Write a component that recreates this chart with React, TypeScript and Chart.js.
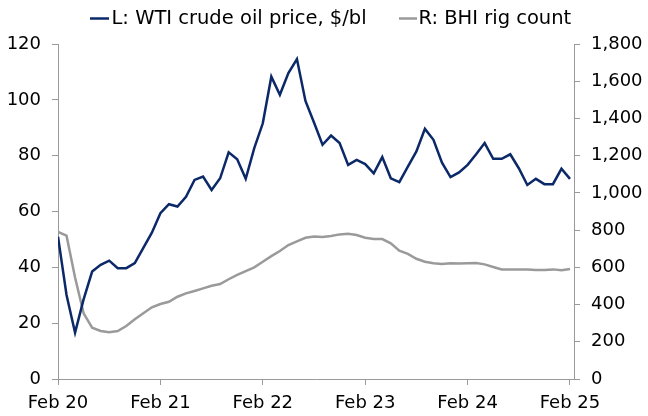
import React, { useEffect, useRef } from "react";
import { Chart, registerables } from "chart.js";

Chart.register(...registerables);

// Monthly observations, Feb 2020 .. Feb 2025 (61 months)
const monthIndex: number[] = [
  0, 1, 2, 3, 4, 5, 6, 7, 8, 9, 10, 11, 12, 13, 14, 15, 16, 17, 18, 19, 20,
  21, 22, 23, 24, 25, 26, 27, 28, 29, 30, 31, 32, 33, 34, 35, 36, 37, 38, 39, 40,
  41, 42, 43, 44, 45, 46, 47, 48, 49, 50, 51, 52, 53, 54, 55, 56, 57, 58, 59, 60,
];

const wtiPrice: number[] = [
  51.0, 30.1, 16.6, 28.5, 38.5, 40.9, 42.4, 39.7, 39.7, 41.5, 47.0,
  52.4, 59.4, 62.6, 61.8, 65.3, 71.3, 72.5, 67.7, 71.9, 81.2,
  78.7, 71.7, 82.7, 91.6, 108.3, 101.8, 109.6, 114.6, 99.6, 91.9,
  83.9, 87.2, 84.5, 76.7, 78.5, 77.0, 73.7, 79.5, 71.9, 70.5,
  76.1, 81.5, 89.6, 85.7, 77.5, 72.3, 74.0, 76.7, 80.5, 84.5,
  78.9, 78.9, 80.5, 75.5, 69.5, 71.7, 69.8, 69.8, 75.3, 71.7,
];

const rigCount: number[] = [
  791, 770, 545, 353, 276, 258, 251, 258, 285, 321, 353,
  385, 403, 415, 442, 460, 473, 487, 501, 510, 536,
  559, 580, 600, 630, 660, 688, 720, 740, 759, 765,
  763, 768, 777, 781, 774, 759, 752, 752, 729, 690,
  672, 646, 630, 622, 618, 622, 620, 622, 623, 616,
  602, 589, 588, 588, 588, 586, 586, 589, 584, 591,
];

const xTickPositions: number[] = [0, 12, 24, 36, 48, 60];
const xTickLabels: string[] = ["Feb 20", "Feb 21", "Feb 22", "Feb 23", "Feb 24", "Feb 25"];

const seriesNames: string[] = ["L: WTI crude oil price, $/bl", "R: BHI rig count"];
const seriesColors: string[] = ["#0b2868", "#9a9a9a"];

const FONT = '"DejaVu Sans", sans-serif';
const AXIS_GREY = "#9a9a9a";

const legendPlugin = {
  id: "customLegend",
  afterDraw(chart: any) {
    const ctx = chart.ctx as CanvasRenderingContext2D;
    ctx.save();
    ctx.font = `19.5px ${FONT}`;
    ctx.fillStyle = "#000";
    ctx.textBaseline = "middle";
    ctx.textAlign = "left";
    const y = 18;
    const items = [
      { sx: 90, sw: 19, tx: 111.5 },
      { sx: 399, sw: 18, tx: 418.5 },
    ];
    items.forEach((it, i) => {
      ctx.strokeStyle = seriesColors[i];
      ctx.lineWidth = 2.5;
      ctx.beginPath();
      ctx.moveTo(it.sx, y + 0.5);
      ctx.lineTo(it.sx + it.sw, y + 0.5);
      ctx.stroke();
      ctx.fillText(seriesNames[i], it.tx, y + 0.5);
    });
    ctx.restore();
  },
};

export default function App() {
  const canvasRef = useRef<HTMLCanvasElement | null>(null);

  useEffect(() => {
    document.body.style.margin = "0";
    const canvas = canvasRef.current;
    if (!canvas) return;
    const chart = new Chart(canvas, {
      type: "line",
      data: {
        datasets: [
          {
            label: seriesNames[0],
            data: monthIndex.map((m, i) => ({ x: m, y: wtiPrice[i] })),
            borderColor: seriesColors[0],
            backgroundColor: seriesColors[0],
            borderWidth: 2.5,
            pointRadius: 0,
            tension: 0,
            yAxisID: "yL",
            order: 1,
          },
          {
            label: seriesNames[1],
            data: monthIndex.map((m, i) => ({ x: m, y: rigCount[i] })),
            borderColor: seriesColors[1],
            backgroundColor: seriesColors[1],
            borderWidth: 2.5,
            pointRadius: 0,
            tension: 0,
            yAxisID: "yR",
            order: 2,
          },
        ],
      },
      options: {
        responsive: true,
        maintainAspectRatio: false,
        animation: false,
        layout: { padding: { top: 44, left: 0, right: 0, bottom: 0 } },
        plugins: {
          legend: { display: false },
          tooltip: { enabled: false },
        },
        scales: {
          x: {
            type: "linear",
            min: 0,
            max: 60.47,
            afterBuildTicks: (scale: any) => {
              scale.ticks = xTickPositions.map((v) => ({ value: v }));
            },
            afterFit: (scale: any) => {
              scale.height = 37;
            },
            ticks: {
              autoSkip: false,
              maxRotation: 0,
              padding: 8,
              color: "#000",
              font: { family: FONT, size: 18 },
              callback: (v: any) => {
                const idx = xTickPositions.indexOf(Number(v));
                return idx >= 0 ? xTickLabels[idx] : "";
              },
            },
            grid: {
              drawOnChartArea: false,
              drawTicks: true,
              tickLength: 6,
              color: AXIS_GREY,
            },
            border: { display: true, color: AXIS_GREY, width: 1 },
          },
          yL: {
            type: "linear",
            position: "left",
            min: 0,
            max: 120,
            ticks: {
              stepSize: 20,
              padding: 11,
              color: "#000",
              font: { family: FONT, size: 18 },
            },
            afterFit: (scale: any) => {
              scale.width = 58;
            },
            grid: {
              drawOnChartArea: false,
              drawTicks: true,
              tickLength: 6,
              color: AXIS_GREY,
            },
            border: { display: true, color: AXIS_GREY, width: 1 },
          },
          yR: {
            type: "linear",
            position: "right",
            min: 0,
            max: 1800,
            ticks: {
              stepSize: 200,
              padding: 11,
              color: "#000",
              font: { family: FONT, size: 18 },
              callback: (v: any) => Number(v).toLocaleString("en-US"),
            },
            afterFit: (scale: any) => {
              scale.width = 74;
            },
            grid: {
              drawOnChartArea: false,
              drawTicks: true,
              tickLength: 6,
              color: AXIS_GREY,
            },
            border: { display: true, color: AXIS_GREY, width: 1 },
          },
        },
      },
      plugins: [legendPlugin],
    } as any);
    return () => chart.destroy();
  }, []);

  return (
    <div style={{ position: "relative", width: 648, height: 416 }}>
      <canvas ref={canvasRef} />
    </div>
  );
}
